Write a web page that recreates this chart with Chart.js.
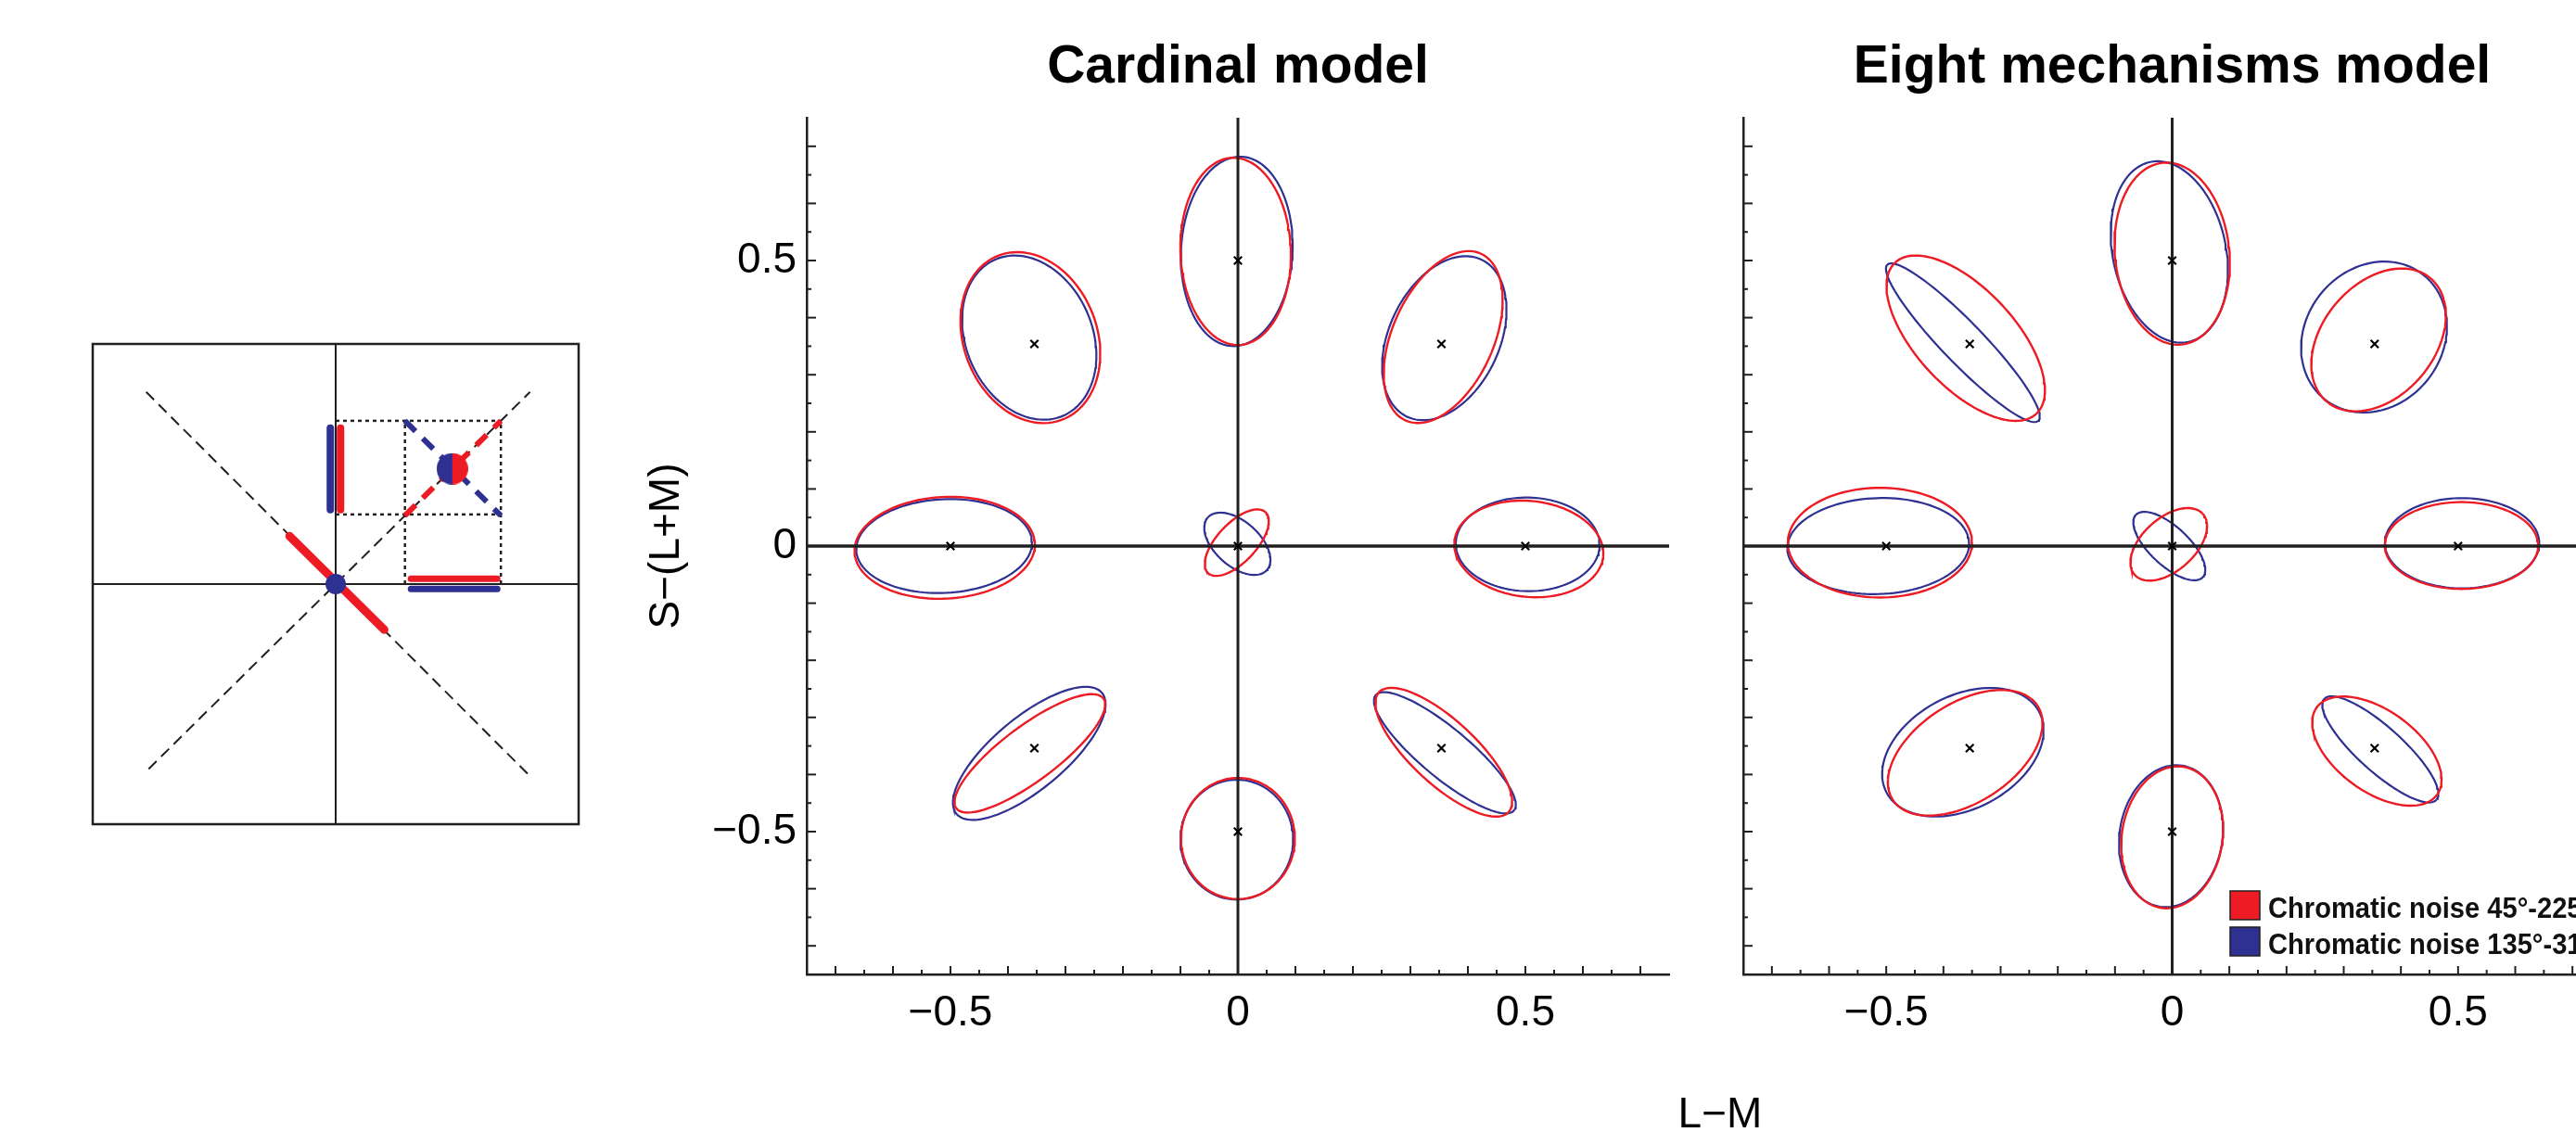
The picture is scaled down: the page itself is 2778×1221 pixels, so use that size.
<!DOCTYPE html>
<html>
<head>
<meta charset="utf-8">
<script src="https://cdn.jsdelivr.net/npm/chart.js@4.4.1/dist/chart.umd.min.js"></script>
<style>
  html, body { margin: 0; padding: 0; background: #fff; }
  #wrap { position: relative; width: 2778px; height: 1221px; overflow: hidden; }
  canvas { position: absolute; top: 0; }
</style>
</head>
<body>
<div id="wrap">
  <canvas id="inset" width="600" height="600" style="left:60px;top:330px"></canvas>
  <canvas id="cardinal" width="1200" height="1221" style="left:640px"></canvas>
  <canvas id="eight" width="1060" height="1221" style="left:1760px"></canvas>
</div>
<script>
const RED = '#ED1C24';
const BLUE = '#2E3192';
const INK = '#231F20';
const FONT = "'Liberation Sans', Arial, Helvetica, sans-serif";
Chart.defaults.font.family = FONT;

// test colours in the (L-M, S-(L+M)) plane
const centerX = [0, -0.354, 0.354, -0.5, 0.5, 0, -0.354, 0.354, 0];
const centerY = [0.5, 0.354, 0.354, 0, 0, 0, -0.354, -0.354, -0.5];

// threshold ellipses, one per test colour: [cx, cy, semi-major, semi-minor, angle in deg]
const cardinalRed = [
  [-0.004, 0.516, 0.164, 0.096, 92],
  [-0.361, 0.365, 0.154, 0.116, 111],
  [0.357, 0.366, 0.160, 0.088, 66],
  [-0.510, -0.003, 0.157, 0.089, 3],
  [0.506, -0.005, 0.130, 0.084, -6],
  [-0.002, 0.006, 0.073, 0.034, 47],
  [-0.362, -0.363, 0.160, 0.048, 37],
  [0.358, -0.361, 0.154, 0.056, -43],
  [0.000, -0.512, 0.106, 0.099, 90]
];
const cardinalBlue = [
  [-0.002, 0.516, 0.166, 0.097, 87],
  [-0.363, 0.365, 0.149, 0.110, 113],
  [0.359, 0.364, 0.152, 0.096, 65],
  [-0.511, 0.000, 0.153, 0.082, 3],
  [0.504, 0.003, 0.125, 0.082, -1],
  [-0.001, 0.004, 0.069, 0.039, 138],
  [-0.363, -0.363, 0.165, 0.063, 40],
  [0.360, -0.362, 0.157, 0.043, -40],
  [-0.002, -0.514, 0.105, 0.098, 90]
];
const eightRed = [
  [0.000, 0.512, 0.160, 0.100, 96],
  [-0.361, 0.364, 0.181, 0.086, 133],
  [0.361, 0.361, 0.141, 0.098, 50],
  [-0.511, 0.006, 0.161, 0.096, 0],
  [0.506, 0.001, 0.134, 0.076, 0],
  [-0.006, 0.003, 0.080, 0.046, 42],
  [-0.362, -0.362, 0.151, 0.087, 33],
  [0.358, -0.359, 0.130, 0.071, -36],
  [0.000, -0.510, 0.125, 0.088, 81]
];
const eightBlue = [
  [-0.005, 0.515, 0.161, 0.099, 102],
  [-0.366, 0.356, 0.190, 0.036, 134],
  [0.353, 0.366, 0.139, 0.120, 52],
  [-0.514, 0.000, 0.159, 0.084, 2],
  [0.507, 0.005, 0.135, 0.079, 0],
  [-0.005, 0.000, 0.080, 0.034, 137],
  [-0.366, -0.361, 0.151, 0.099, 28],
  [0.364, -0.356, 0.132, 0.039, -42],
  [-0.002, -0.508, 0.125, 0.090, 81]
];

const tickValues = [-0.5, 0, 0.5];
const tickText = ['\u22120.5', '0', '0.5'];
const panelTitles = ['Cardinal model', 'Eight mechanisms model'];
const legendText = ['Chromatic noise 45°-225°', 'Chromatic noise 135°-315°'];

// schematic inset (arbitrary units, box is -1..1)
const insetAxisH = [[-1, 0], [1, 0]];
const insetAxisV = [[0, -1], [0, 1]];
const insetDiag1 = [[-0.78, 0.8], [0.8, -0.8]];
const insetDiag2 = [[-0.77, -0.77], [0.8, 0.8]];
const insetDotted = [
  [[0, 0.68], [0.68, 0.68]],
  [[0, 0.29], [0.68, 0.29]],
  [[0.285, 0], [0.285, 0.68]],
  [[0.68, 0], [0.68, 0.68]]
];
const insetRedDash = [[0.285, 0.285], [0.68, 0.68]];
const insetBlueDash = [[0.285, 0.68], [0.68, 0.285]];
const insetRedBar = [[-0.19, 0.2], [0.2, -0.19]];
const insetRedV = [[0.02, 0.31], [0.02, 0.65]];
const insetBlueV = [[-0.022, 0.31], [-0.022, 0.65]];
const insetRedH = [[0.31, 0.022], [0.665, 0.022]];
const insetBlueH = [[0.31, -0.02], [0.665, -0.02]];
const insetOrigin = [[0, 0]];
const insetNoisePoint = [[0.48, 0.48]];

function ellipse(p) {
  const [cx, cy, a, b, deg] = p;
  const th = deg * Math.PI / 180;
  const pts = [];
  for (let k = 0; k <= 120; k++) {
    const t = k / 120 * 2 * Math.PI;
    pts.push({
      x: cx + a * Math.cos(t) * Math.cos(th) - b * Math.sin(t) * Math.sin(th),
      y: cy + a * Math.cos(t) * Math.sin(th) + b * Math.sin(t) * Math.cos(th)
    });
  }
  return pts;
}

function seg(pts, color, width, extra) {
  return Object.assign({
    data: pts.map(([x, y]) => ({x, y})),
    showLine: true, borderColor: color, borderWidth: width,
    pointRadius: 0, pointHoverRadius: 0, fill: false, tension: 0
  }, extra || {});
}

function tickLabel(v) {
  const i = tickValues.findIndex(t => Math.abs(t - v) < 1e-6);
  return i < 0 ? '' : tickText[i];
}

const axisDecor = {
  id: 'axisDecor',
  afterDraw(chart, args, o) {
    const {ctx, chartArea: ca, scales: {x, y}} = chart;
    ctx.save();
    ctx.strokeStyle = INK;
    ctx.lineWidth = 2;
    x.ticks.forEach(t => {
      if (Math.abs(Math.abs(t.value) - 0.75) < 1e-6) return;
      const px = x.getPixelForValue(t.value);
      const len = Math.round(t.value * 20) % 2 === 0 ? 9 : 5;
      ctx.beginPath(); ctx.moveTo(px, ca.bottom); ctx.lineTo(px, ca.bottom - len); ctx.stroke();
    });
    y.ticks.forEach(t => {
      if (Math.abs(Math.abs(t.value) - 0.75) < 1e-6) return;
      const py = y.getPixelForValue(t.value);
      const len = Math.round(t.value * 20) % 2 === 0 ? 10 : 5;
      ctx.beginPath(); ctx.moveTo(ca.left, py); ctx.lineTo(ca.left + len, py); ctx.stroke();
    });

    ctx.fillStyle = '#000';
    ctx.font = 'bold 57px ' + FONT;
    ctx.textAlign = 'center';
    ctx.textBaseline = 'alphabetic';
    ctx.fillText(o.title, (ca.left + ca.right) / 2, 89);

    if (o.legend) {
      [RED, BLUE].forEach((c, i) => {
        const top = 961 + i * 39;
        ctx.fillStyle = c;
        ctx.fillRect(o.legendX, top, 32, 31);
        ctx.strokeStyle = INK;
        ctx.lineWidth = 1.5;
        ctx.strokeRect(o.legendX, top, 32, 31);
        ctx.save();
        ctx.translate(o.legendX + 41, top + 29);
        ctx.scale(0.91, 1);
        ctx.fillStyle = '#111';
        ctx.font = 'bold 32px ' + FONT;
        ctx.textAlign = 'left';
        ctx.fillText(legendText[i], 0, 0);
        ctx.restore();
      });
    }
    if (o.xTitleX !== undefined) {
      ctx.fillStyle = '#000';
      ctx.font = '46px ' + FONT;
      ctx.textAlign = 'center';
      ctx.fillText('L\u2212M', o.xTitleX, 1216);
    }
    ctx.restore();
  }
};

function panel(id, red, blue, cfg) {
  const datasets = [
    {data: centerX.map((x, i) => ({x, y: centerY[i]})), pointStyle: 'crossRot',
     pointRadius: 6, borderColor: '#000', borderWidth: 2.2, showLine: false, order: 0},
    seg([[-0.75, 0], [0.75, 0]], INK, 3.5, {order: 1}),
    seg([[0, -0.75], [0, 0.75]], INK, 3, {order: 1})
  ];
  red.forEach(p => datasets.push(seg([], RED, 2.4, {data: ellipse(p), order: 2})));
  blue.forEach(p => datasets.push(seg([], BLUE, 2.2, {data: ellipse(p), order: 3})));

  const lim = {min: -0.75, max: 0.75};
  return new Chart(document.getElementById(id), {
    type: 'scatter',
    data: {datasets},
    options: {
      responsive: false, animation: false, events: [],
      layout: {padding: {top: 127, right: cfg.right, left: 0, bottom: 0}},
      plugins: {
        legend: {display: false}, tooltip: {enabled: false},
        axisDecor: cfg.decor
      },
      scales: {
        x: Object.assign({type: 'linear',
          grid: {display: false, drawTicks: false},
          border: {color: INK, width: 2.5},
          ticks: {stepSize: 0.05, maxTicksLimit: 100, autoSkip: false, maxRotation: 0,
                  padding: 15, color: '#000', font: {size: 46}, callback: tickLabel},
          afterFit: s => { s.height = 170; }}, lim),
        y: Object.assign({type: 'linear',
          grid: {display: false, drawTicks: false},
          border: {color: INK, width: 2.5},
          ticks: {display: cfg.yLabels, stepSize: 0.05, maxTicksLimit: 100, autoSkip: false,
                  padding: 11, color: '#000', font: {size: 46}, callback: tickLabel},
          title: {display: cfg.yLabels, text: 'S\u2212(L+M)', color: '#000',
                  font: {size: 46}, padding: {top: 52, bottom: 0}},
          afterFit: s => { s.width = cfg.yWidth; }}, lim)
      }
    },
    plugins: [axisDecor]
  });
}

panel('cardinal', cardinalRed, cardinalBlue, {
  right: 40, yWidth: 230, yLabels: true,
  decor: {title: panelTitles[0]}
});
panel('eight', eightRed, eightBlue, {
  right: 10, yWidth: 120, yLabels: false,
  decor: {title: panelTitles[1], legend: true, legendX: 645, xTitleX: 95}
});

// inset schematic
function halfDot(r) {
  const c = document.createElement('canvas');
  c.width = c.height = 2 * r;
  const g = c.getContext('2d');
  g.fillStyle = BLUE; g.beginPath(); g.arc(r, r, r, Math.PI / 2, 3 * Math.PI / 2); g.fill();
  g.fillStyle = RED; g.beginPath(); g.arc(r, r, r, -Math.PI / 2, Math.PI / 2); g.fill();
  return c;
}

const boxPlugin = {
  id: 'box',
  afterDraw(chart) {
    const {ctx, chartArea: ca} = chart;
    ctx.save();
    ctx.strokeStyle = INK;
    ctx.lineWidth = 2.5;
    ctx.strokeRect(ca.left, ca.top, ca.right - ca.left, ca.bottom - ca.top);
    ctx.restore();
  }
};

const insetSets = [
  seg(insetAxisH, INK, 2, {order: 4}),
  seg(insetAxisV, INK, 2, {order: 4}),
  seg(insetDiag1, INK, 2, {borderDash: [12, 7], order: 4}),
  seg(insetDiag2, INK, 2, {borderDash: [12, 7], order: 4})
];
insetDotted.forEach(s => insetSets.push(seg(s, INK, 2.5, {borderDash: [4, 4], order: 3})));
insetSets.push(
  seg(insetRedDash, RED, 6, {borderDash: [16, 11], order: 2}),
  seg(insetBlueDash, BLUE, 6, {borderDash: [16, 11], order: 2}),
  seg(insetRedBar, RED, 9, {borderCapStyle: 'round', order: 1}),
  seg(insetRedV, RED, 8, {borderCapStyle: 'round', order: 1}),
  seg(insetBlueV, BLUE, 8, {borderCapStyle: 'round', order: 1}),
  seg(insetRedH, RED, 7, {borderCapStyle: 'round', order: 1}),
  seg(insetBlueH, BLUE, 7, {borderCapStyle: 'round', order: 1}),
  {data: insetOrigin.map(([x, y]) => ({x, y})), pointRadius: 11, pointStyle: 'circle',
   backgroundColor: BLUE, borderWidth: 0, order: 0},
  {data: insetNoisePoint.map(([x, y]) => ({x, y})), pointRadius: 17, pointStyle: halfDot(17),
   order: 0}
);

new Chart(document.getElementById('inset'), {
  type: 'scatter',
  data: {datasets: insetSets},
  options: {
    responsive: false, animation: false, events: [],
    layout: {padding: {left: 40, right: 36, top: 41, bottom: 41}},
    plugins: {legend: {display: false}, tooltip: {enabled: false}},
    scales: {
      x: {display: false, min: -1, max: 1},
      y: {display: false, min: -1, max: 1}
    }
  },
  plugins: [boxPlugin]
});
</script>
</body>
</html>
